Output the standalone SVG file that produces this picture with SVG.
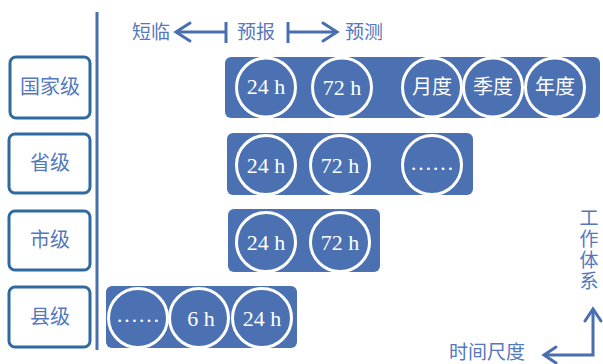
<svg xmlns="http://www.w3.org/2000/svg" width="603" height="364" viewBox="0 0 603 364">
<style>
.lvl{fill:#fff;stroke:#2f6a9f;stroke-width:3}
.lt{font-family:"Noto Sans CJK SC","Noto Sans",sans-serif;font-size:20px;fill:#5478bd;text-anchor:middle}
.band{fill:#4b71b3}
.c{fill:none;stroke:#fff;stroke-width:3}
.ct{font-family:"Liberation Serif","Noto Sans CJK SC",serif;font-size:22px;fill:#fff;text-anchor:middle}
.cc{font-family:"Noto Sans CJK SC",sans-serif;font-size:20px;fill:#fff;text-anchor:middle}
.ln{stroke:#4a6fae;stroke-width:3;fill:none}
.hd{stroke:#4a6fae;stroke-width:3;fill:none;stroke-linecap:round;stroke-linejoin:miter}
.ax{font-family:"Noto Sans CJK SC",sans-serif;font-size:19px;fill:#5478bd}
</style>
<rect width="603" height="364" fill="#fff"/>
<g id="connectors">
<line class="ln" x1="97" y1="12" x2="97" y2="350"/>
<line class="ln" x1="177" y1="32" x2="226" y2="32"/>
<polyline class="hd" points="190,23 176,32 190,41"/>
<line class="ln" x1="226" y1="22" x2="226" y2="43"/>
<line class="ln" x1="288" y1="22" x2="288" y2="43"/>
<line class="ln" x1="288" y1="32" x2="336" y2="32"/>
<polyline class="hd" points="323,23 337,32 323,41"/>
<polyline class="ln" points="593,310 593,355 545,355"/>
<polyline class="hd" points="585,321 593,309 601,321"/>
<polyline class="hd" points="556,347 544,355 556,363"/>
</g>
<g id="axis-labels">
<text class="ax" x="132" y="39">短临</text>
<text class="ax" x="237" y="39">预报</text>
<text class="ax" x="345" y="39">预测</text>
<text class="ax" x="449" y="359" font-size="20">时间尺度</text>
<text class="ax" x="589" y="208" writing-mode="vertical-rl" letter-spacing="2">工作体系</text>
</g>
<g id="national">
<rect class="lvl" x="10" y="57" width="80" height="61" rx="6"/>
<text class="lt" x="50" y="94">国家级</text>
</g>
<g id="province">
<rect class="lvl" x="9" y="134" width="81" height="59" rx="6"/>
<text class="lt" x="50" y="170">省级</text>
</g>
<g id="city">
<rect class="lvl" x="9" y="211" width="81" height="59" rx="6"/>
<text class="lt" x="50" y="247">市级</text>
</g>
<g id="county">
<rect class="lvl" x="9" y="287" width="81" height="60" rx="6"/>
<text class="lt" x="50" y="324">县级</text>
</g>
<g id="national-scales">
<rect class="band" x="225" y="57" width="375" height="61" rx="6"/>
<circle class="c" cx="266" cy="87.5" r="29.5"/><text class="ct" x="266" y="94">24 h</text>
<circle class="c" cx="342" cy="87.5" r="29.5"/><text class="ct" x="342" y="95">72 h</text>
<circle class="c" cx="432" cy="87.5" r="29.5"/><text class="cc" x="432" y="94">月度</text>
<circle class="c" cx="493" cy="87.5" r="29.5"/><text class="cc" x="493" y="94">季度</text>
<circle class="c" cx="555" cy="87.5" r="29.5"/><text class="cc" x="555" y="94">年度</text>
</g>
<g id="province-scales">
<rect class="band" x="227" y="133" width="246" height="62" rx="6"/>
<circle class="c" cx="266" cy="165" r="29.5"/><text class="ct" x="266" y="173">24 h</text>
<circle class="c" cx="340" cy="165" r="29.5"/><text class="ct" x="340" y="173">72 h</text>
<circle class="c" cx="432" cy="165" r="29.5"/><text class="ct" x="432" y="170" font-size="18">……</text>
</g>
<g id="city-scales">
<rect class="band" x="228" y="209" width="152" height="63" rx="6"/>
<circle class="c" cx="266" cy="242" r="29.5"/><text class="ct" x="266" y="250">24 h</text>
<circle class="c" cx="340" cy="242" r="29.5"/><text class="ct" x="340" y="250">72 h</text>
</g>
<g id="county-scales">
<rect class="band" x="106" y="286" width="191" height="62" rx="6"/>
<circle class="c" cx="138" cy="318" r="29.5"/><text class="ct" x="138" y="322" font-size="18">……</text>
<circle class="c" cx="199" cy="318" r="29.5"/><text class="ct" x="201" y="326">6 h</text>
<circle class="c" cx="262" cy="318" r="29.5"/><text class="ct" x="262" y="326">24 h</text>
</g>
</svg>
